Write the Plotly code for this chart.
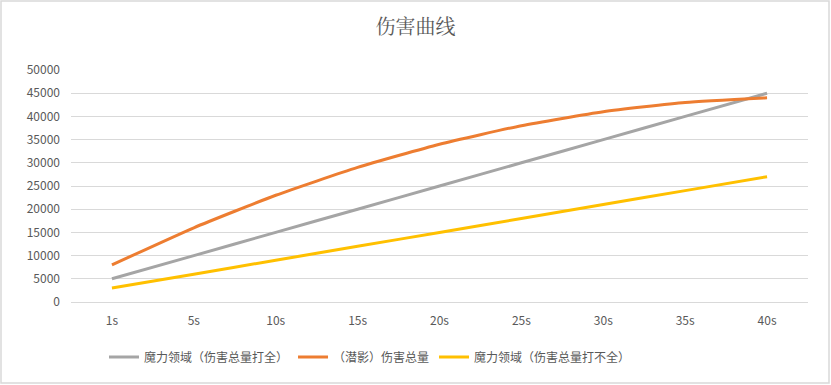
import plotly.graph_objects as go

categories = ["1s", "5s", "10s", "15s", "20s", "25s", "30s", "35s", "40s"]
full_hit = [5000, 10000, 15000, 20000, 25000, 30000, 35000, 40000, 45000]
stealth = [8000, 16000, 23000, 29000, 34000, 38000, 41000, 43000, 44000]
partial_hit = [3000, 6000, 9000, 12000, 15000, 18000, 21000, 24000, 27000]
y_ticks = [0, 5000, 10000, 15000, 20000, 25000, 30000, 35000, 40000, 45000, 50000]

names = ["魔力领域（伤害总量打全）", "（潜影）伤害总量", "魔力领域（伤害总量打不全）"]
colors = ["#A5A5A5", "#ED7D31", "#FFC000"]
series = [full_hit, stealth, partial_hit]

W, H = 831, 385
ml, mr, mt, mb = 71, 23, 70, 83

fig = go.Figure()
for nm, col, vals in zip(names, colors, series):
    fig.add_trace(go.Scatter(
        x=list(range(len(categories))), y=vals, mode="lines", name=nm,
        line=dict(color=col, width=3, shape="spline", smoothing=0.5),
    ))

pw = W - ml - mr
ph = H - mt - mb
fig.add_shape(type="rect", xref="paper", yref="paper",
              x0=(1 - ml) / pw, x1=(W - 2 - ml) / pw,
              y0=-(H - 2 - mt - ph) / ph, y1=(ph + mt - 1) / ph,
              line=dict(color="#D9D9D9", width=1.5), layer="below")

font = "Noto Sans CJK SC, sans-serif"
fig.update_layout(
    width=W, height=H,
    margin=dict(l=ml, r=mr, t=mt, b=mb, autoexpand=False),
    paper_bgcolor="white", plot_bgcolor="white",
    title=dict(text="伤害曲线", x=0.5, xanchor="center", y=1 - 27 / H, yanchor="middle",
               font=dict(family="Noto Serif CJK SC, Noto Sans CJK SC, serif", size=20, color="#595959")),
    xaxis=dict(tickmode="array", tickvals=list(range(len(categories))), ticktext=categories,
               range=[-0.5, len(categories) - 0.5], showgrid=False, zeroline=False,
               showline=False, ticks="", ticklen=0, ticklabelstandoff=10,
               tickfont=dict(family=font, size=12, color="#595959")),
    yaxis=dict(range=[0, 50000], tickmode="array", tickvals=y_ticks,
               ticktext=[str(v) for v in y_ticks],
               showgrid=True, gridcolor="#D9D9D9", gridwidth=1, zeroline=True,
               zerolinecolor="#D9D9D9", zerolinewidth=1, ticks="", ticklabelstandoff=10,
               tickfont=dict(family=font, size=12, color="#595959")),
    legend=dict(orientation="h", x=(104 - ml) / pw, xanchor="left", y=-(357 - (H - mb)) / ph, yanchor="middle",
                font=dict(family=font, size=12, color="#595959"), itemwidth=30,
                tracegroupgap=0),
    showlegend=True,
)

fig.write_html("out.html", config={"displayModeBar": False},
               post_script="document.body.style.margin='0';document.body.style.overflow='hidden';")
